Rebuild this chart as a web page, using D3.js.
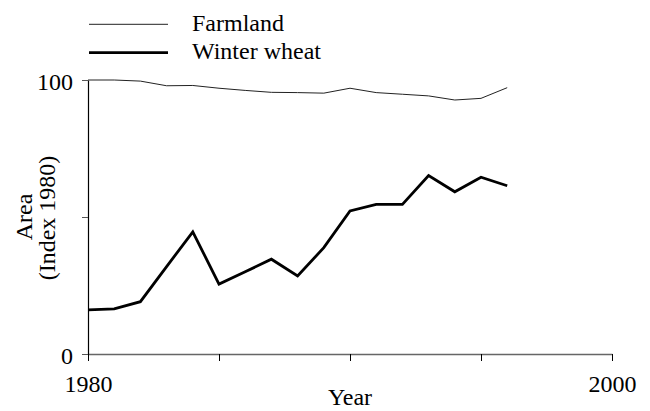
<!DOCTYPE html>
<html>
<head>
<meta charset="utf-8">
<script src="https://cdn.jsdelivr.net/npm/d3@7"></script>
<style>
  html, body { margin: 0; padding: 0; background: #fff; }
  svg { display: block; }
  text { font-family: "Liberation Serif", "Times New Roman", Times, serif; fill: #000; }
</style>
</head>
<body>
<svg id="chart" width="650" height="411"></svg>
<script>
const years = [1980, 1981, 1982, 1983, 1984, 1985, 1986, 1987, 1988, 1989, 1990, 1991, 1992, 1993, 1994, 1995, 1996];
const farmland = [100, 100, 99.6, 97.9, 98.0, 97.0, 96.2, 95.5, 95.4, 95.2, 97.0, 95.4, 94.8, 94.2, 92.7, 93.3, 97.2];
const winterWheat = [16.1, 16.5, 19.1, 31.9, 44.6, 25.5, 30.0, 34.6, 28.5, 38.8, 52.2, 54.6, 54.6, 65.1, 59.2, 64.5, 61.4];
const xTicks = [1980, 1985, 1990, 1995, 2000];
const xTickLabels = ["1980", "", "", "", "2000"];
const yTicks = [0, 50, 100];
const yTickLabels = ["0", "", "100"];
const seriesNames = ["Farmland", "Winter wheat"];

const svg = d3.select("#chart");
const fs = 24;

const x = d3.scaleLinear().domain([1980, 2000]).range([88, 612]);
const y = d3.scaleLinear().domain([0, 100]).range([354, 80]);

// X axis
const xAxis = d3.axisBottom(x).tickValues(xTicks).tickSize(7).tickSizeOuter(0)
  .tickFormat((d, i) => xTickLabels[i]);
const gx = svg.append("g").attr("transform", `translate(0,${y(0)})`).call(xAxis);
gx.select(".domain").attr("stroke", "#666").attr("stroke-width", 1.5);
gx.selectAll(".tick line").attr("stroke", "#000");
gx.selectAll(".tick text").attr("font-size", fs).attr("dy", "0").attr("y", 38);

// Y axis
const yAxis = d3.axisLeft(y).tickValues(yTicks).tickSize(6).tickSizeOuter(0)
  .tickFormat((d, i) => yTickLabels[i]);
const gy = svg.append("g").attr("transform", `translate(${x(1980)},0)`).call(yAxis);
gy.select(".domain").attr("stroke", "#000").attr("stroke-width", 1.2);
gy.selectAll(".tick line").attr("stroke", "#555");
gy.selectAll(".tick text").attr("font-size", fs).attr("x", -15).attr("dy", "0.38em");

// Lines
const line = d3.line().x((d, i) => x(years[i])).y(d => y(d));
svg.append("path").datum(farmland).attr("d", line)
  .attr("fill", "none").attr("stroke", "#222").attr("stroke-width", 1);
svg.append("path").datum(winterWheat).attr("d", line)
  .attr("fill", "none").attr("stroke", "#000").attr("stroke-width", 2.8).attr("stroke-linejoin", "miter");

// Axis titles
svg.append("text").attr("x", 350).attr("y", 405).attr("text-anchor", "middle").attr("font-size", fs).text("Year");
svg.append("text").attr("transform", `translate(32,217) rotate(-90)`).attr("text-anchor", "middle").attr("font-size", fs).text("Area");
svg.append("text").attr("transform", `translate(55,218) rotate(-90)`).attr("text-anchor", "middle").attr("font-size", fs).text("(Index 1980)");

// Legend
const legend = svg.append("g");
const legendY = [24.3, 52.7];
const legendW = [1, 2.8];
seriesNames.forEach((name, i) => {
  legend.append("line").attr("x1", 89).attr("x2", 168).attr("y1", legendY[i]).attr("y2", legendY[i])
    .attr("stroke", i === 0 ? "#222" : "#000").attr("stroke-width", legendW[i]);
  legend.append("text").attr("x", 192).attr("y", legendY[i] + 6.2).attr("font-size", fs).text(name);
});
</script>
</body>
</html>
